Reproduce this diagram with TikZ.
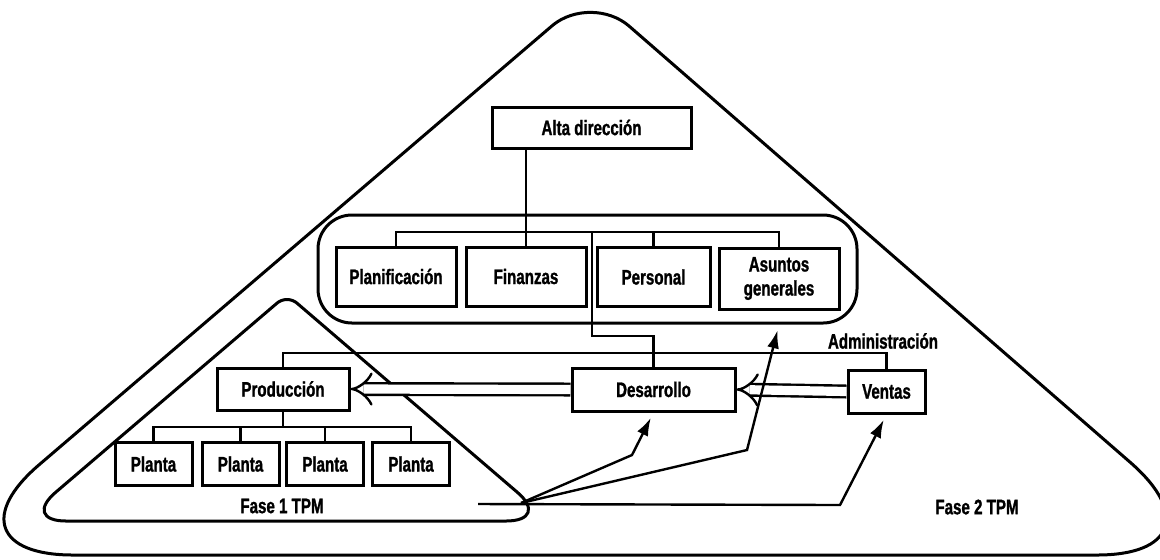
\documentclass[tikz,border=0pt]{standalone}
\usepackage{fontspec}
\usepackage{tikz}
\usetikzlibrary{arrows.meta}
\newfontfamily\orgfont{Liberation Sans}[FakeStretch=0.72, BoldFeatures={FakeBold=1.2}]
\tikzset{
  unit/.style={draw, line width=1.5pt, inner sep=0pt, align=center,
    font=\orgfont\bfseries\fontsize{10.5}{12}\selectfont},
  staff/.style={unit, minimum width=60pt, minimum height=29.5pt},
  planta/.style={unit, minimum width=38.5pt, minimum height=21.5pt},
  tag/.style={font=\orgfont\bfseries\fontsize{10.5}{12}\selectfont},
  tie/.style={line width=1.2pt},
  flow/.style={line width=1.2pt, double, double distance=4.6pt, -{Implies[scale=1.3]}},
  push/.style={line width=1.2pt, shorten >=3pt, -{Latex[length=9pt, width=6pt]}},
  phase/.style={line width=1.5pt}
}

\begin{document}
\begin{tikzpicture}[x=0.5pt, y=-0.5pt]
\useasboundingbox (0,0) rectangle (1160,559);
% phase outlines
\draw[phase] (73,555) -- (1097,555) .. controls (1174,555) and (1189,514) .. (1131,463)
  -- (629,26) .. controls (608,8) and (574,8) .. (553,25)
  -- (40,464) .. controls (-19,514) and (-4,555) .. cycle;
\draw[phase] (66,521) -- (506,521) .. controls (531,521) and (536,508) .. (517,492)
  -- (298,304) .. controls (292,298) and (282,298) .. (276,304)
  -- (56,492) .. controls (37,508) and (41,521) .. cycle;
% staff group
\node[draw, line width=1.5pt, rounded corners=17pt, minimum width=269.5pt, minimum height=54pt] (grp) at (587.5,269) {};
% boxes
\node[unit, minimum width=99.5pt, minimum height=20.5pt] (alta) at (591.5,127.5) {Alta dirección};
\node[staff] (plan) at (396,276.5) {Planificación};
\node[staff] (fin) at (526,276.5) {Finanzas};
\node[staff, minimum width=56.5pt] (pers) at (653.5,277) {Personal};
\node[staff, minimum height=30.5pt] (asun) at (779,278.5) {Asuntos\\generales};
\node[unit, minimum width=66pt, minimum height=21pt] (prod) at (283,389) {Producción};
\node[unit, minimum width=81.5pt, minimum height=21.5pt] (des) at (653.5,389.5) {Desarrollo};
\node[unit, minimum width=38.5pt, minimum height=21.5pt] (ven) at (886.5,391.5) {Ventas};
\node[planta] (pl1) at (153.5,464) {Planta};
\node[planta] (pl2) at (240.5,464) {Planta};
\node[planta] (pl3) at (325,464) {Planta};
\node[planta] (pl4) at (411,464) {Planta};
% labels
\node[tag] (adm) at (883,341) {Administración};
\node[tag] (fase1) at (282,506) {Fase 1 TPM};
\node[tag] (fase2) at (977,507) {Fase 2 TPM};
% tree lines
\coordinate (sbus) at (0,232);
\coordinate (abus) at (0,353);
\coordinate (pbus) at (0,427);
\coordinate (drise) at (592,336);
\draw[tie] (alta.south -| fin.north) -- (fin.north);
\draw[tie] (plan.north) |- (sbus -| asun.north) -- (asun.north);
\draw[tie] (pers.north) -- (pers.north |- sbus);
\draw[tie] (drise |- sbus) -- (drise) -| (des.north);
\draw[tie] (prod.north) |- (abus -| ven.north) -- (ven.north);
\draw[tie] (prod.south) -- (prod.south |- pbus);
\draw[tie] (pl1.north) |- (pbus -| pl4.north) -- (pl4.north);
\foreach \p in {pl2,pl3} \draw[tie] (\p.north) -- (\p.north |- pbus);
% transfer arrows
\draw[flow] (des.west) -- (prod.east);
\draw[flow] (ven.west) -- (des.east);
\coordinate (f1c) at (521,503);
\coordinate (f1s) at (478,504);
\draw[push] (f1c) -- (632,455) -- (des.south);
\draw[push] (f1c) -- (747,450) -- (grp.south -| asun.south);
\draw[push] (f1s) -- (840,505) -- (ven.south);
\end{tikzpicture}
\end{document}
